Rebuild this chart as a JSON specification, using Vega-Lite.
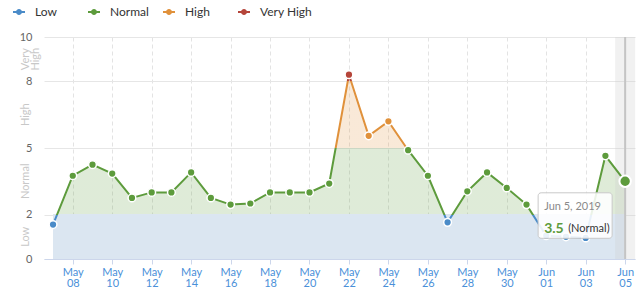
{
  "$schema": "https://vega.github.io/schema/vega-lite/v6.json",
  "width": 591,
  "height": 222,
  "autosize": {"type": "none"},
  "padding": {"left": 44, "top": 37, "right": 5, "bottom": 30},
  "config": {"view": {"stroke": null}, "font": "Lato"},
  "datasets": {
    "levels": [
      {"date": "2019-05-07T00:00:00", "value": 1.55, "level": "Low"},
      {"date": "2019-05-08T00:00:00", "value": 3.75, "level": "Normal"},
      {"date": "2019-05-09T00:00:00", "value": 4.25, "level": "Normal"},
      {"date": "2019-05-10T00:00:00", "value": 3.85, "level": "Normal"},
      {"date": "2019-05-11T00:00:00", "value": 2.75, "level": "Normal"},
      {"date": "2019-05-12T00:00:00", "value": 3.0, "level": "Normal"},
      {"date": "2019-05-13T00:00:00", "value": 3.0, "level": "Normal"},
      {"date": "2019-05-14T00:00:00", "value": 3.9, "level": "Normal"},
      {"date": "2019-05-15T00:00:00", "value": 2.75, "level": "Normal"},
      {"date": "2019-05-16T00:00:00", "value": 2.45, "level": "Normal"},
      {"date": "2019-05-17T00:00:00", "value": 2.5, "level": "Normal"},
      {"date": "2019-05-18T00:00:00", "value": 3.0, "level": "Normal"},
      {"date": "2019-05-19T00:00:00", "value": 3.0, "level": "Normal"},
      {"date": "2019-05-20T00:00:00", "value": 3.0, "level": "Normal"},
      {"date": "2019-05-21T00:00:00", "value": 3.4, "level": "Normal"},
      {"date": "2019-05-22T00:00:00", "value": 8.3, "level": "Very High"},
      {"date": "2019-05-23T00:00:00", "value": 5.55, "level": "High"},
      {"date": "2019-05-24T00:00:00", "value": 6.2, "level": "High"},
      {"date": "2019-05-25T00:00:00", "value": 4.9, "level": "Normal"},
      {"date": "2019-05-26T00:00:00", "value": 3.75, "level": "Normal"},
      {"date": "2019-05-27T00:00:00", "value": 1.65, "level": "Low"},
      {"date": "2019-05-28T00:00:00", "value": 3.05, "level": "Normal"},
      {"date": "2019-05-29T00:00:00", "value": 3.9, "level": "Normal"},
      {"date": "2019-05-30T00:00:00", "value": 3.2, "level": "Normal"},
      {"date": "2019-05-31T00:00:00", "value": 2.45, "level": "Normal"},
      {"date": "2019-06-01T00:00:00", "value": 1.05, "level": "Low"},
      {"date": "2019-06-02T00:00:00", "value": 1.0, "level": "Low"},
      {"date": "2019-06-03T00:00:00", "value": 0.95, "level": "Low"},
      {"date": "2019-06-04T00:00:00", "value": 4.65, "level": "Normal"},
      {"date": "2019-06-05T00:00:00", "value": 3.5, "level": "Normal"}
    ],
    "bands": [
      {"band": "Low", "mid": 1},
      {"band": "Normal", "mid": 3.5},
      {"band": "High", "mid": 6.5},
      {"band": "Very High", "mid": 9}
    ]
  },
  "data": {"name": "levels"},
  "layer": [
    {
      "mark": {
        "type": "area",
        "fillOpacity": 0.2,
        "fill": {
          "gradient": "linear", "x1": 0, "y1": 0, "x2": 0, "y2": 1,
          "stops": [
            {"offset": 0, "color": "#b5453a"},
            {"offset": 0.0408, "color": "#b5453a"},
            {"offset": 0.0408, "color": "#e0913b"},
            {"offset": 0.449, "color": "#e0913b"},
            {"offset": 0.449, "color": "#5d9b3c"},
            {"offset": 0.857, "color": "#5d9b3c"},
            {"offset": 0.857, "color": "rgba(255,255,255,0)"},
            {"offset": 1, "color": "rgba(255,255,255,0)"}
          ]
        }
      },
      "encoding": {
        "x": {
          "field": "date", "type": "temporal",
          "scale": {"domain": [{"year": 2019, "month": 5, "date": 6, "hours": 13}, {"year": 2019, "month": 6, "date": 5, "hours": 12}]},
          "axis": {
            "values": [
              {"year": 2019, "month": 5, "date": 8}, {"year": 2019, "month": 5, "date": 10},
              {"year": 2019, "month": 5, "date": 12}, {"year": 2019, "month": 5, "date": 14},
              {"year": 2019, "month": 5, "date": 16}, {"year": 2019, "month": 5, "date": 18},
              {"year": 2019, "month": 5, "date": 20}, {"year": 2019, "month": 5, "date": 22},
              {"year": 2019, "month": 5, "date": 24}, {"year": 2019, "month": 5, "date": 26},
              {"year": 2019, "month": 5, "date": 28}, {"year": 2019, "month": 5, "date": 30},
              {"year": 2019, "month": 6, "date": 1}, {"year": 2019, "month": 6, "date": 3},
              {"year": 2019, "month": 6, "date": 5}
            ],
            "labelExpr": "[timeFormat(datum.value, '%b'), timeFormat(datum.value, '%d')]",
            "title": null,
            "labelColor": "#4a90d9",
            "labelFontSize": 11,
            "labelLineHeight": 11,
            "labelPadding": 2,
            "labelOverlap": false,
            "tickSize": 5,
            "tickColor": "#ccd6eb",
            "domainColor": "#ccd6eb",
            "grid": true,
            "gridDash": [4, 3],
            "gridColor": "#e3e3e3"
          }
        },
        "y": {
          "field": "value", "type": "quantitative",
          "scale": {"domain": [0, 10], "nice": false},
          "axis": {
            "values": [0, 2, 5, 8, 10],
            "title": null,
            "domain": false,
            "ticks": false,
            "labelPadding": 12,
            "labelColor": "#666666",
            "labelFontSize": 11,
            "gridColor": "#e6e6e6"
          }
        },
        "y2": {"datum": 2}
      }
    },
    {
      "mark": {"type": "rect", "fill": "#dbe6f1"},
      "encoding": {
        "x": {"datum": {"year": 2019, "month": 5, "date": 7}, "type": "temporal"},
        "x2": {"datum": {"year": 2019, "month": 6, "date": 5}},
        "y": {"datum": 0, "type": "quantitative"},
        "y2": {"datum": 2}
      }
    },
    {
      "transform": [{"filter": {"field": "date", "timeUnit": "yearmonthdate", "equal": {"year": 2019, "month": 6, "date": 5}}}],
      "mark": {"type": "rect", "fill": "#cccccc", "fillOpacity": 0.28, "xOffset": -10, "x2Offset": 10},
      "encoding": {
        "x": {"field": "date", "type": "temporal"},
        "x2": {"field": "date"},
        "y": {"datum": 0, "type": "quantitative"},
        "y2": {"datum": 10}
      }
    },
    {
      "transform": [{"filter": {"field": "date", "timeUnit": "yearmonthdate", "equal": {"year": 2019, "month": 6, "date": 5}}}],
      "mark": {"type": "rule", "stroke": "#c4c4c4", "strokeWidth": 2},
      "encoding": {
        "x": {"field": "date", "type": "temporal"}
      }
    },
    {
      "mark": {
        "type": "line",
        "strokeWidth": 2,
        "stroke": {
          "gradient": "linear", "x1": 0, "y1": 0, "x2": 0, "y2": 1,
          "stops": [
            {"offset": 0, "color": "#b5453a"},
            {"offset": 0.0408, "color": "#b5453a"},
            {"offset": 0.0408, "color": "#e0913b"},
            {"offset": 0.449, "color": "#e0913b"},
            {"offset": 0.449, "color": "#5d9b3c"},
            {"offset": 0.857, "color": "#5d9b3c"},
            {"offset": 0.857, "color": "#4a8bc8"},
            {"offset": 1, "color": "#4a8bc8"}
          ]
        }
      },
      "encoding": {
        "x": {"field": "date", "type": "temporal"},
        "y": {"field": "value", "type": "quantitative"}
      }
    },
    {
      "mark": {"type": "point", "filled": true, "opacity": 1, "size": 60, "stroke": "white", "strokeWidth": 1.5, "strokeOpacity": 1},
      "encoding": {
        "x": {"field": "date", "type": "temporal"},
        "y": {"field": "value", "type": "quantitative"},
        "color": {
          "field": "level", "type": "nominal",
          "scale": {"domain": ["Low", "Normal", "High", "Very High"], "range": ["#4a8bc8", "#5d9b3c", "#e0913b", "#b5453a"]},
          "legend": {
            "orient": "none",
            "legendX": -31,
            "legendY": -31,
            "direction": "horizontal",
            "title": null,
            "gridAlign": "all",
            "symbolType": "M-1,-0.16 L-0.48,-0.16 L-0.48,0.16 L-1,0.16 Z M0.48,-0.16 L1,-0.16 L1,0.16 L0.48,0.16 Z M0.5,0 A0.5,0.5 0 1,1 -0.5,0 A0.5,0.5 0 1,1 0.5,0 Z",
            "symbolSize": 144,
            "symbolStrokeWidth": 0,
            "symbolOpacity": 1,
            "labelFontSize": 12,
            "labelColor": "#333333",
            "labelOffset": 10,
            "columnPadding": -9
          }
        }
      }
    },
    {
      "transform": [{"filter": {"field": "date", "timeUnit": "yearmonthdate", "equal": {"year": 2019, "month": 6, "date": 5}}}],
      "mark": {"type": "point", "filled": true, "opacity": 1, "size": 130, "stroke": "white", "strokeWidth": 2, "strokeOpacity": 1},
      "encoding": {
        "x": {"field": "date", "type": "temporal"},
        "y": {"field": "value", "type": "quantitative"},
        "color": {"field": "level", "type": "nominal", "legend": null}
      }
    },
    {
      "data": {"name": "bands"},
      "mark": {"type": "text", "angle": 270, "align": "center", "baseline": "top", "dx": 0, "dy": -33, "fontSize": 11, "color": "#c8c8c8", "lineBreak": " ", "lineHeight": 10},
      "encoding": {
        "x": {"datum": {"year": 2019, "month": 5, "date": 7}, "type": "temporal"},
        "y": {"field": "mid", "type": "quantitative"},
        "text": {"field": "band"}
      }
    },
    {
      "transform": [{"filter": {"field": "date", "timeUnit": "yearmonthdate", "equal": {"year": 2019, "month": 6, "date": 5}}}],
      "mark": {"type": "rect", "fill": "white", "fillOpacity": 0.88, "stroke": "#c9c9c9", "strokeWidth": 1, "cornerRadius": 3, "xOffset": -87, "x2Offset": -13, "yOffset": 11.5, "y2Offset": 57},
      "encoding": {
        "x": {"field": "date", "type": "temporal"},
        "x2": {"field": "date"},
        "y": {"field": "value", "type": "quantitative"},
        "y2": {"field": "value"}
      }
    },
    {
      "transform": [{"filter": {"field": "date", "timeUnit": "yearmonthdate", "equal": {"year": 2019, "month": 6, "date": 5}}}],
      "mark": {"type": "text", "align": "left", "baseline": "middle", "dx": -81, "dy": 26, "fontSize": 11, "color": "#8a8a8a"},
      "encoding": {
        "x": {"field": "date", "type": "temporal"},
        "y": {"field": "value", "type": "quantitative"},
        "text": {"field": "date", "type": "temporal", "format": "%b %-d, %Y"}
      }
    },
    {
      "transform": [{"filter": {"field": "date", "timeUnit": "yearmonthdate", "equal": {"year": 2019, "month": 6, "date": 5}}}],
      "mark": {"type": "text", "align": "left", "baseline": "middle", "dx": -81, "dy": 48, "fontSize": 14, "fontWeight": "bold", "color": "#5d9b3c"},
      "encoding": {
        "x": {"field": "date", "type": "temporal"},
        "y": {"field": "value", "type": "quantitative"},
        "text": {"field": "value", "type": "quantitative", "format": ".1f"}
      }
    },
    {
      "transform": [
        {"filter": {"field": "date", "timeUnit": "yearmonthdate", "equal": {"year": 2019, "month": 6, "date": 5}}},
        {"calculate": "'(' + datum.level + ')'", "as": "levelLabel"}
      ],
      "mark": {"type": "text", "align": "left", "baseline": "middle", "dx": -57, "dy": 48, "fontSize": 11, "color": "#333333"},
      "encoding": {
        "x": {"field": "date", "type": "temporal"},
        "y": {"field": "value", "type": "quantitative"},
        "text": {"field": "levelLabel"}
      }
    }
  ]
}
